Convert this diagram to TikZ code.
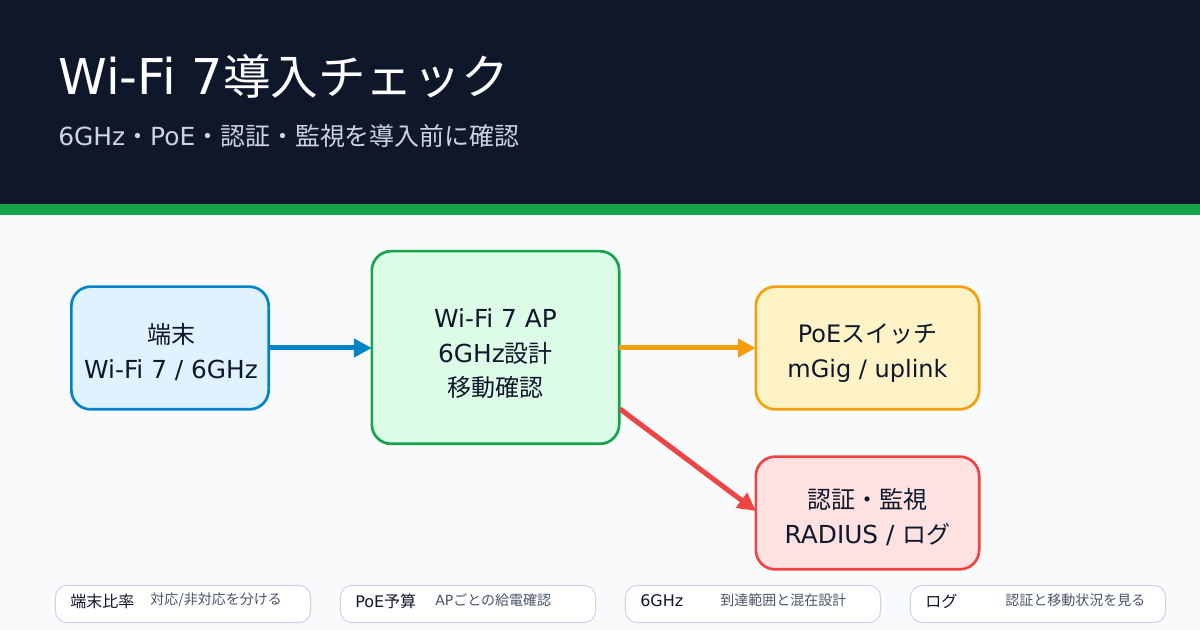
\documentclass[tikz,border=0pt]{standalone}
\usepackage{fontspec}
\setmainfont{DejaVu Sans}
\newfontfamily\cjk{Noto Sans CJK JP}
\usetikzlibrary{arrows.meta}
\definecolor{hdr}{HTML}{0F172A}
\definecolor{grn}{HTML}{16A34A}
\definecolor{bg}{HTML}{F8FAFC}
\definecolor{blu}{HTML}{0284C7}
\definecolor{blul}{HTML}{E0F2FE}
\definecolor{grnl}{HTML}{DCFCE7}
\definecolor{org}{HTML}{F59E0B}
\definecolor{orgl}{HTML}{FEF3C7}
\definecolor{red1}{HTML}{EF4444}
\definecolor{redl}{HTML}{FEE2E2}
\definecolor{ink}{HTML}{0F172A}
\definecolor{sub}{HTML}{CBD5E1}
\definecolor{pillb}{HTML}{CBD5E1}
\definecolor{pillt}{HTML}{475569}
\newcommand{\J}[1]{{\cjk #1}}
\newcommand{\fs}[1]{\fontsize{#1}{#1}\selectfont}
\newcommand{\JJ}[2]{{\fontsize{#1}{#1}\selectfont\cjk #2}}
\tikzset{x=0.75pt,y=-0.75pt,
 box/.style={draw,line width=2pt,rounded corners=14.5pt,inner sep=0,outer sep=0},
 boxtext/.style={inner sep=0,align=center,text=ink,font=\fs{18.6},yshift=-3pt,execute at begin node={\baselineskip=26pt}},
 flow/.style={line width=3.75pt,-{Triangle[length=13.5pt,width=13.5pt]}},
 pill/.style={draw=pillb,fill=white,line width=0.75pt,rounded corners=9pt,inner sep=0},
 ptitle/.style={anchor=west,inner sep=0,text=ink,font=\fs{12}},
 pdesc/.style={anchor=west,inner sep=0,text=pillt,font=\fs{10.5}}}
\begin{document}
\begin{tikzpicture}
\useasboundingbox (0,0) rectangle (1200,630);
\fill[bg] (0,0) rectangle (1200,630);
\fill[hdr] (0,0) rectangle (1200,205);
\fill[grn] (0,204) rectangle (1200,215);
\node[anchor=west,inner sep=0,text=white,font=\fs{37}] (title) at (58,76) {Wi-Fi 7\JJ{35.7}{導入チェック}};
\node[anchor=west,inner sep=0,text=sub,font=\fs{18.7}] (subtitle) at (58,136) {6GHz\J{・}PoE\J{・認証・監視を導入前に確認}};
\node[box,fill=blul,draw=blu,minimum width=148pt,minimum height=92pt] (a) at (170,348) {};
\node[box,fill=grnl,draw=grn,minimum width=185.5pt,minimum height=144.5pt] (b) at (495.5,347.5) {};
\node[box,fill=orgl,draw=org,minimum width=167.5pt,minimum height=92pt] (c) at (867.5,348) {};
\node[box,fill=redl,draw=red1,minimum width=167.5pt,minimum height=84.5pt] (d) at (867.5,513) {};
\node[boxtext] (at) at (171,348) {\JJ{18}{端末}\\Wi-Fi 7 / 6GHz};
\node[boxtext,yshift=-1.8pt] (bt) at (b) {Wi-Fi 7 AP\\6GHz\JJ{18}{設計}\\\JJ{18}{移動確認}};
\node[boxtext,font=\fs{18},yshift=-0.8pt] (ct) at (c) {PoE\JJ{18}{スイッチ}\\mGig / uplink};
\node[boxtext] (dt) at (d) {\JJ{18}{認証・監視}\\RADIUS / \JJ{18}{ログ}};
\draw[flow,blu] (a.east |- 0,348) -- (b.west |- 0,348);
\draw[flow,org] (b.east |- 0,348) -- (c.west |- 0,348);
\coordinate (bs) at (620,409);
\draw[flow,red1] (bs) -- (d.west |- 0,511);
\foreach \n/\x/\t/\dx/\d in {p1/55/\J{端末比率}/95/\J{対応/非対応を分ける},p2/340/PoE\J{予算}/95/AP\J{ごとの給電確認},p3/625/6GHz/95/\J{到達範囲と混在設計},p4/910/\J{ログ}/95/\J{認証と移動状況を見る}}{
 \node[pill,minimum width=191.5pt,minimum height=28pt] (\n) at (\x+128,604) {};
 \node[ptitle] (\n t) at (\x+15,601) {\t};
 \node[pdesc] (\n d) at (\x+\dx,600) {\d};
}
\end{tikzpicture}
\end{document}
